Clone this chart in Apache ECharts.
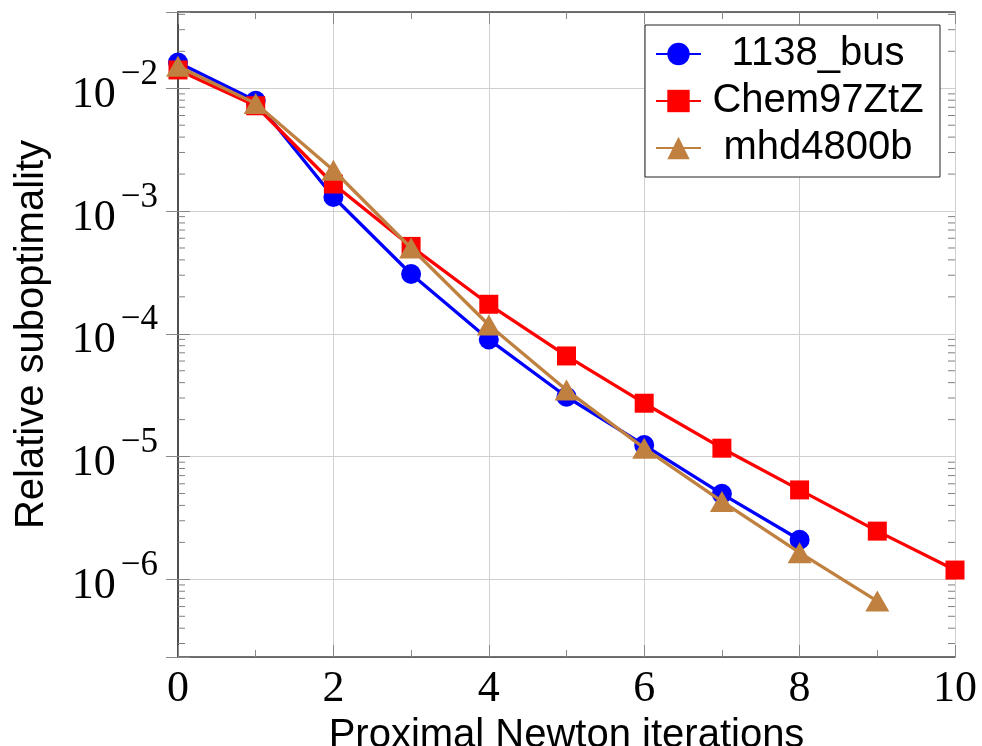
<!DOCTYPE html>
<html>
<head>
<meta charset="utf-8">
<script src="https://cdn.jsdelivr.net/npm/echarts@6/dist/echarts.min.js"></script>
<style>
html,body{margin:0;padding:0;background:#fff;}
#chart{width:982px;height:746px;}
</style>
</head>
<body>
<div id="chart"></div>
<script>
// ---- data ----
const iterations = [0, 1, 2, 3, 4, 5, 6, 7, 8, 9, 10];
const seriesNames = ['1138_bus', 'Chem97ZtZ', 'mhd4800b'];
const bus1138 = [1.62e-2, 7.9e-3, 1.30e-3, 3.07e-4, 9.0e-5, 3.07e-5, 1.24e-5, 4.97e-6, 2.1e-6];
const chem97 = [1.41e-2, 7.2e-3, 1.66e-3, 5.15e-4, 1.74e-4, 6.6e-5, 2.72e-5, 1.17e-5, 5.35e-6, 2.47e-6, 1.19e-6];
const mhd4800 = [1.51e-2, 7.5e-3, 2.15e-3, 5.0e-4, 1.18e-4, 3.48e-5, 1.17e-5, 4.31e-6, 1.65e-6, 6.65e-7];
const xTickLabels = ['0', '2', '4', '6', '8', '10'];
const yDecades = [-6, -5, -4, -3, -2];
const xTitle = 'Proximal Newton iterations';
const yTitle = 'Relative suboptimality';

const Y_MIN = 2.33e-7, Y_MAX = 4.18e-2;
const X_MIN = 0, X_MAX = 10;

function pairs(vals) { return vals.map((v, i) => [iterations[i], v]); }

// minor tick values for the log axis (2..9 x 10^k)
const minorTickValues = [];
for (let k = -7; k <= -2; k++) {
  for (let m = 2; m <= 9; m++) {
    const v = m * Math.pow(10, k);
    if (v > Y_MIN && v < Y_MAX) minorTickValues.push(v);
  }
}

const serif = 'Liberation Serif';
const sans = 'Liberation Sans';

function yLabel(v) {
  const e = Math.log10(v);
  const r = Math.round(e);
  if (Math.abs(e - r) > 1e-6 || yDecades.indexOf(r) < 0) return '';
  return '{b|10}{s|\u2212' + Math.abs(r) + '}';
}

const chart = echarts.init(document.getElementById('chart'), null, {renderer: 'canvas'});
const axisLineStyle = {show: true, lineStyle: {color: '#444', width: 1.5}};
const tickStyle = {color: '#888', width: 1};

const option = {
  animation: false,
  backgroundColor: '#fff',
  grid: {left: 178, top: 12, width: 777, height: 645, containLabel: false, outerBoundsMode: 'none'},
  legend: {
    data: seriesNames,
    orient: 'vertical',
    left: 645, top: 25,
    backgroundColor: '#fff',
    borderColor: '#222', borderWidth: 1,
    padding: [9, 10, 9, 10],
    itemWidth: 45, itemHeight: 28, itemGap: 7,
    formatter: name => '{n|' + name + '}',
    textStyle: {
      rich: {n: {width: 224, align: 'center', fontSize: 40, lineHeight: 40, fontFamily: sans, color: '#000'}}
    }
  },
  xAxis: [{
    type: 'value', min: X_MIN, max: X_MAX, interval: 2,
    axisLine: axisLineStyle,
    axisTick: {show: true, inside: true, length: 12, lineStyle: tickStyle},
    minorTick: {show: true, splitNumber: 2, length: 7, lineStyle: tickStyle},
    splitLine: {show: true, lineStyle: {color: '#d0d0d0', width: 1}},
    axisLabel: {
      fontFamily: serif, fontSize: 44, color: '#000', margin: 10,
      formatter: v => xTickLabels[Math.round(v / 2)] || ''
    },
    name: xTitle, nameLocation: 'middle', nameGap: 50,
    nameTextStyle: {fontFamily: sans, fontSize: 40, color: '#000'}
  }, {
    type: 'value', min: X_MIN, max: X_MAX, interval: 2, position: 'top',
    axisLine: axisLineStyle,
    axisTick: {show: true, inside: true, length: 12, lineStyle: tickStyle},
    minorTick: {show: true, splitNumber: 2, length: 7, lineStyle: tickStyle},
    splitLine: {show: false},
    axisLabel: {show: false}
  }],
  yAxis: [{
    type: 'log', logBase: 10, min: Y_MIN, max: Y_MAX,
    axisLine: axisLineStyle,
    axisTick: {show: true, inside: true, length: 12, lineStyle: tickStyle},
    splitLine: {show: true, lineStyle: {color: '#d0d0d0', width: 1}},
    axisLabel: {
      margin: 20, color: '#000',
      padding: [14, 0, 0, 0],
      formatter: yLabel,
      rich: {
        b: {fontFamily: serif, fontSize: 44, lineHeight: 44, verticalAlign: 'bottom', color: '#000'},
        s: {fontFamily: serif, fontSize: 35, lineHeight: 35, verticalAlign: 'bottom', padding: [0, 0, 25, 5], color: '#000'}
      }
    },
    name: yTitle, nameLocation: 'middle', nameGap: 126, nameRotate: 90,
    nameTextStyle: {fontFamily: sans, fontSize: 40, color: '#000'}
  }, {
    type: 'log', logBase: 10, min: Y_MIN, max: Y_MAX, position: 'right',
    axisLine: axisLineStyle,
    axisTick: {show: true, inside: true, length: 12, lineStyle: tickStyle},
    splitLine: {show: false},
    axisLabel: {show: false}
  }],
  series: [
    {
      type: 'custom', name: 'minorTicks', silent: true, z: 6,
      xAxisIndex: 0, yAxisIndex: 0,
      encode: {x: 0, y: 1},
      data: minorTickValues.map(v => [X_MIN, v]),
      renderItem: function (params, api) {
        const v = api.value(1);
        const pl = api.coord([X_MIN, v]);
        const pr = api.coord([X_MAX, v]);
        const st = {stroke: '#808080', lineWidth: 1};
        return {
          type: 'group',
          children: [
            {type: 'line', shape: {x1: pl[0], y1: pl[1], x2: pl[0] + 7, y2: pl[1]}, style: st},
            {type: 'line', shape: {x1: pr[0] - 7, y1: pr[1], x2: pr[0], y2: pr[1]}, style: st}
          ]
        };
      }
    },
    {
      name: seriesNames[0], type: 'line', data: pairs(bus1138),
      symbol: 'circle', symbolSize: 20,
      lineStyle: {color: '#0000ff', width: 3.3}, itemStyle: {color: '#0000ff'}, z: 3
    },
    {
      name: seriesNames[1], type: 'line', data: pairs(chem97),
      symbol: 'rect', symbolSize: 19,
      lineStyle: {color: '#ff0000', width: 3.3}, itemStyle: {color: '#ff0000'}, z: 4
    },
    {
      name: seriesNames[2], type: 'line', data: pairs(mhd4800),
      symbol: 'triangle', symbolSize: [24, 21],
      lineStyle: {color: '#bf8040', width: 3.3}, itemStyle: {color: '#bf8040'}, z: 5
    }
  ]
};
chart.setOption(option);
</script>
</body>
</html>
